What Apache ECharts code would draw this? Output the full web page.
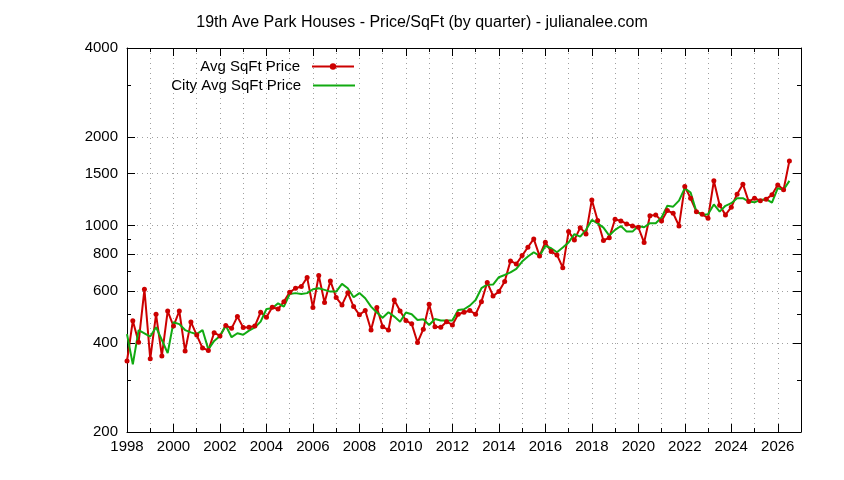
<!DOCTYPE html>
<html><head><meta charset="utf-8">
<script src="https://cdn.jsdelivr.net/npm/echarts@6/dist/echarts.min.js"></script>
<style>html,body{margin:0;padding:0;background:#fff}#c{width:844px;height:480px}</style>
</head><body><div id="c"></div>
<script>
const chartTitle = '19th Ave Park Houses - Price/SqFt (by quarter) - julianalee.com';
const seriesNames = ['Avg SqFt Price', 'City Avg SqFt Price'];
const quarters = [
'1998Q1','1998Q2','1998Q3','1998Q4','1999Q1','1999Q2','1999Q3','1999Q4',
'2000Q1','2000Q2','2000Q3','2000Q4','2001Q1','2001Q2','2001Q3','2001Q4',
'2002Q1','2002Q2','2002Q3','2002Q4','2003Q1','2003Q2','2003Q3','2003Q4',
'2004Q1','2004Q2','2004Q3','2004Q4','2005Q1','2005Q2','2005Q3','2005Q4',
'2006Q1','2006Q2','2006Q3','2006Q4','2007Q1','2007Q2','2007Q3','2007Q4',
'2008Q1','2008Q2','2008Q3','2008Q4','2009Q1','2009Q2','2009Q3','2009Q4',
'2010Q1','2010Q2','2010Q3','2010Q4','2011Q1','2011Q2','2011Q3','2011Q4',
'2012Q1','2012Q2','2012Q3','2012Q4','2013Q1','2013Q2','2013Q3','2013Q4',
'2014Q1','2014Q2','2014Q3','2014Q4','2015Q1','2015Q2','2015Q3','2015Q4',
'2016Q1','2016Q2','2016Q3','2016Q4','2017Q1','2017Q2','2017Q3','2017Q4',
'2018Q1','2018Q2','2018Q3','2018Q4','2019Q1','2019Q2','2019Q3','2019Q4',
'2020Q1','2020Q2','2020Q3','2020Q4','2021Q1','2021Q2','2021Q3','2021Q4',
'2022Q1','2022Q2','2022Q3','2022Q4','2023Q1','2023Q2','2023Q3','2023Q4',
'2024Q1','2024Q2','2024Q3','2024Q4','2025Q1','2025Q2','2025Q3','2025Q4',
'2026Q1','2026Q2','2026Q3'];
const avgPrice = [
348,476,403,609,354,501,362,514,
457,514,376,472,426,385,378,434,
423,459,449,492,452,453,457,509,
490,529,522,553,595,614,622,668,
528,678,549,650,571,539,593,532,
499,516,443,528,455,443,560,514,
477,465,402,446,542,455,453,473,
461,501,509,516,501,553,642,578,
598,647,760,742,792,845,902,790,
879,817,796,721,955,895,985,938,
1223,1042,891,911,1052,1038,1014,998,
988,877,1080,1088,1038,1125,1102,998,
1357,1239,1116,1094,1060,1419,1172,1088,
1155,1279,1383,1207,1239,1216,1230,1272,
1375,1323,1658];
const cityAvgPrice = [
429,339,443,432,421,453,410,370,
471,464,443,435,429,443,381,407,
423,459,419,432,427,441,452,473,
522,525,546,532,587,591,587,591,
609,614,606,598,598,635,614,572,
591,568,532,508,488,509,492,473,
508,501,479,482,461,483,477,477,
477,518,521,536,560,614,631,632,
669,681,695,714,756,786,813,790,
854,839,813,843,877,936,918,968,
1046,1018,985,926,968,998,955,955,
998,988,1020,1020,1066,1168,1160,1216,
1340,1295,1116,1088,1094,1180,1116,1168,
1192,1239,1239,1207,1200,1223,1230,1197,
1340,1323,1419];
const yMajorTicks = [200,400,600,800,1000,1500,2000,4000];
const yMinorTicks = [300,500,700,900,3000];

const FONT = 'Liberation Sans';
const RED = '#cc0000', GREEN = '#11aa11';
const qx = q => Number(q.slice(0,4)) + (Number(q[5]) - 1) / 4;
const grid = {show:true, lineStyle:{color:'#a0a0a0', type:[1,4], width:1}};
const blackLine = {show:true, onZero:false, lineStyle:{color:'#000', width:1}};

function xAx(pos, interval, len, labels, withLine, split){
  return {type:'value', position:pos, min:1998, max:2027, interval:interval,
    axisLine: withLine ? blackLine : {show:false},
    axisTick:{show:true, inside:true, length:len, lineStyle:{color:'#000', width:1}},
    axisLabel: labels ? {show:true, color:'#000', fontSize:15, fontFamily:FONT, margin:7, showMaxLabel:false,
      formatter: v => (v % 2 === 0 ? String(v) : '')} : {show:false},
    splitLine: split ? grid : {show:false}};
}
function yAx(pos, ticks, len, labels, withLine, split){
  return {type:'log', logBase:10, position:pos, min:200, max:4000,
    axisLine: withLine ? blackLine : {show:false},
    axisTick:{show:true, inside:true, length:len, customValues:ticks, lineStyle:{color:'#000', width:1}},
    axisLabel: labels ? {show:true, customValues:ticks, color:'#000', fontSize:15, fontFamily:FONT, margin:9,
      formatter: v => String(Math.round(v))} : {show:false},
    splitLine: split ? grid : {show:false}, minorTick:{show:false}};
}

const chart = echarts.init(document.getElementById('c'), null, {renderer:'canvas'});
chart.setOption({
  animation:false,
  backgroundColor:'#fff',
  title:{text:chartTitle, left:'center', top:10, textStyle:{fontSize:16, fontWeight:'normal', color:'#000', fontFamily:FONT}},
  grid:{left:127, right:43, top:48, bottom:48, containLabel:false},
  legend:[
    {data:[{name:seriesNames[0]}], right:489, top:59, orient:'vertical', align:'right', itemWidth:42, itemHeight:8, padding:0,
      textStyle:{fontSize:15, color:'#000', fontFamily:FONT, padding:[0,7,0,0]}},
    {data:[{name:seriesNames[1], icon:'rect'}], right:489, top:78, orient:'vertical', align:'right', itemWidth:42, itemHeight:2, padding:0,
      itemStyle:{color:GREEN}, textStyle:{fontSize:15, color:'#000', fontFamily:FONT, padding:[0,7,0,0]}}
  ],
  xAxis:[
    xAx('bottom', 1, 4, true, true, true),
    xAx('bottom', 2, 8, false, false, false),
    xAx('top', 1, 4, false, true, false),
    xAx('top', 2, 8, false, false, false)
  ],
  yAxis:[
    yAx('left', yMajorTicks, 8, true, true, true),
    yAx('left', yMinorTicks, 4, false, false, false),
    yAx('right', yMajorTicks, 8, false, true, false),
    yAx('right', yMinorTicks, 4, false, false, false)
  ],
  series:[
    {name:seriesNames[0], type:'line', xAxisIndex:0, yAxisIndex:0,
      data: quarters.map((q,i) => [qx(q), avgPrice[i]]),
      symbol:'circle', symbolSize:5, showSymbol:true,
      lineStyle:{color:RED, width:2}, itemStyle:{color:RED}},
    {name:seriesNames[1], type:'line', xAxisIndex:0, yAxisIndex:0,
      data: quarters.map((q,i) => [qx(q), cityAvgPrice[i]]),
      symbol:'none', showSymbol:false,
      lineStyle:{color:GREEN, width:2}, itemStyle:{color:GREEN}}
  ]
});
</script></body></html>
